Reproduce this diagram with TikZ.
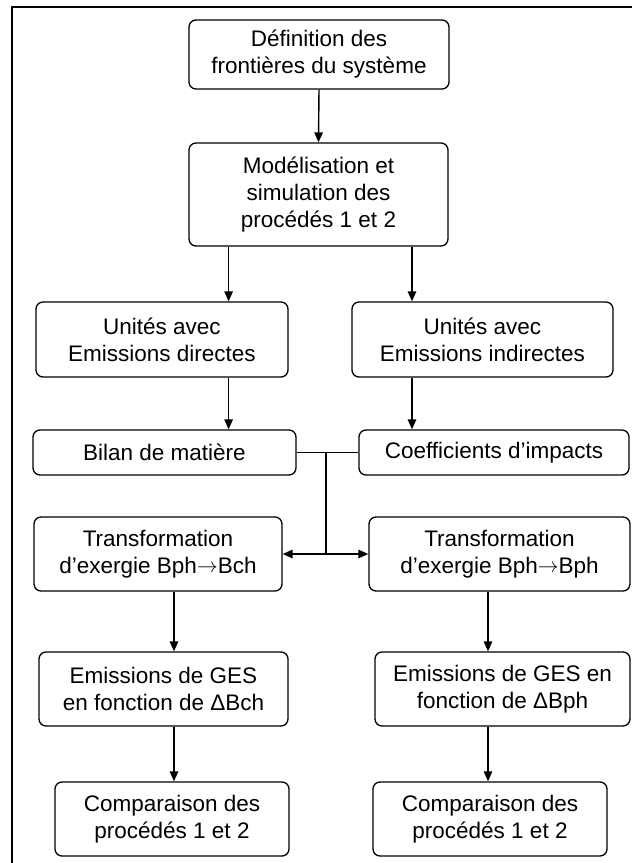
\documentclass[tikz,border=0pt]{standalone}
\usepackage{fontspec}
\setmainfont{Liberation Sans}
\usetikzlibrary{arrows.meta}
\newcommand{\rarr}{\raisebox{0.5pt}{$\rightarrow$}}
\begin{document}
\begin{tikzpicture}[x=1pt,y=-1pt,
  box/.style={draw,line width=1.3pt,rounded corners=7pt,align=center,inner sep=0pt,
    font=\fontsize{22.5}{27}\selectfont},
  arr/.style={line width=1.4pt,-{Triangle[length=10pt,width=8.5pt]}},
  ln/.style={line width=1.4pt}]
\useasboundingbox (0,0) rectangle (632,863);
\draw[line width=1.8pt] (12,863) -- (12,7) -- (632,7);
\node[box,minimum width=260pt,minimum height=69pt] (b1) at (319,54.5) {Définition des\\frontières du système};
\node[box,minimum width=259pt,minimum height=103pt] (b2) at (318.5,194.5) {Modélisation et\\simulation des\\procédés 1 et 2};
\node[box,minimum width=252pt,minimum height=75pt] (ud) at (162,339.5) {Unités avec\\Emissions directes};
\node[box,minimum width=261pt,minimum height=75pt] (ui) at (482.5,339.5) {Unités avec\\Emissions indirectes};
\node[box,minimum width=263pt,minimum height=45pt] (bm) at (164.5,452.5) {Bilan de matière};
\node[box,minimum width=270pt,minimum height=45pt] (ci) at (494,452.5) {Coefficients d’impacts};
\node[box,minimum width=248pt,minimum height=74pt] (tl) at (158,554) {Transformation\\d’exergie Bph\rarr Bch};
\node[box,minimum width=261pt,minimum height=74pt] (tr) at (499.5,554) {Transformation\\d’exergie Bph\rarr Bph};
\node[box,minimum width=249pt,minimum height=74pt] (el) at (163.5,689) {Emissions de GES\\en fonction de ΔBch};
\node[box,minimum width=255pt,minimum height=74pt] (er) at (502.5,689) {Emissions de GES en\\fonction de ΔBph};
\node[box,minimum width=234pt,minimum height=74pt] (cl) at (172,819) {Comparaison des\\procédés 1 et 2};
\node[box,minimum width=234pt,minimum height=74pt] (cr) at (490,819) {Comparaison des\\procédés 1 et 2};
% connectors
\draw[arr] (b1.south) -- (b2.north);
\draw[arr] (228.6,0 |- b2.south) -- (228.6,0 |- ud.north);
\draw[arr] (412,0 |- b2.south) -- (412,0 |- ui.north);
\draw[arr] (228.6,0 |- ud.south) -- (228.6,0 |- bm.north);
\draw[arr] (412,0 |- ui.south) -- (412,0 |- ci.north);
\coordinate (jt) at (326,452.5);
\coordinate (jb) at (326,554);
\draw[ln] (bm.east) -- (ci.west);
\draw[ln] (jt) -- (jb);
\draw[arr] (jb) -- (tl.east);
\draw[arr] (jb) -- (tr.west);
\draw[arr] (174,0 |- tl.south) -- (174,0 |- el.north);
\draw[arr] (174,0 |- el.south) -- (174,0 |- cl.north);
\draw[arr] (488,0 |- tr.south) -- (488,0 |- er.north);
\draw[arr] (488,0 |- er.south) -- (488,0 |- cr.north);
\end{tikzpicture}
\end{document}
